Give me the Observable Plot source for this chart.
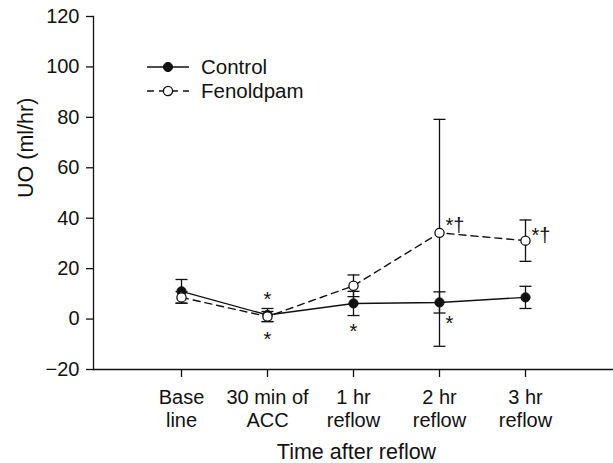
<!DOCTYPE html>
<html><head><meta charset="utf-8">
<script src="https://cdn.jsdelivr.net/npm/d3@7"></script>
<script src="https://cdn.jsdelivr.net/npm/@observablehq/plot@0.6"></script>
<style>
body{margin:0;background:#fff;}
#wrap{position:relative;width:613px;height:463px;font-family:"Liberation Sans",Arial,sans-serif;color:#111;}
#legend{position:absolute;left:140px;top:50px;}
</style></head><body>
<div id="wrap"><div id="chart"></div><div id="legend"></div></div>
<script>
const categories = ["Base\nline", "30 min of\nACC", "1 hr\nreflow", "2 hr\nreflow", "3 hr\nreflow"];
const controlMean = [11, 1.6, 6.2, 6.6, 8.6];
const controlErr = [4.7, 2.6, 4.8, 4.2, 4.4];
const fenoldpamMean = [8.6, 1.0, 13.2, 34.2, 31.1];
const fenoldpamErr = [2.3, 2.0, 4.3, 45, 8.2];
const yTicks = [-20, 0, 20, 40, 60, 80, 100, 120];
const seriesNames = ["Control", "Fenoldpam"];
const yTitle = "UO (ml/hr)";
const xTitle = "Time after reflow";

const annCategory = ["30 min of\nACC", "30 min of\nACC", "1 hr\nreflow", "2 hr\nreflow", "2 hr\nreflow", "3 hr\nreflow"];
const annValue = [9.7, -6.2, -3.1, 0, 38.9, 35.1];
const annLabel = ["*", "*", "*", "*", "*\u2020", "*\u2020"];
const annPlacement = ["center", "center", "center", "right", "right", "right"];

const rows = categories.flatMap((c, i) => [
  {cat: c, series: seriesNames[0], mean: controlMean[i], err: controlErr[i]},
  {cat: c, series: seriesNames[1], mean: fenoldpamMean[i], err: fenoldpamErr[i]}
]);
const anns = annCategory.map((c, i) => ({cat: c, v: annValue[i], label: annLabel[i], place: annPlacement[i]}));
const ctrl = rows.filter(d => d.series === "Control");
const feno = rows.filter(d => d.series === "Fenoldpam");

const capSymbol = {draw(ctx, size) { const w = Math.sqrt(size / Math.PI); ctx.moveTo(-w, 0); ctx.lineTo(w, 0); }};
const ink = "#111";
const font = "'Liberation Sans', Arial, sans-serif";

const chart = Plot.plot({
  width: 613, height: 463,
  marginLeft: 93, marginRight: 0, marginTop: 16, marginBottom: 94,
  style: {fontFamily: font, fontSize: "20px", color: ink, background: "#fff"},
  x: {type: "point", domain: categories, padding: 1},
  y: {domain: [-20, 120]},
  marks: [
    Plot.frame({anchor: "left", stroke: ink, strokeWidth: 1.3}),
    Plot.frame({anchor: "bottom", stroke: ink, strokeWidth: 1.3}),
    Plot.axisY({ticks: yTicks, tickSize: 7, tickPadding: 7, fontSize: 20, strokeWidth: 1.3, label: null}),
    Plot.axisX({tickSize: 8, tickPadding: 10, fontSize: 20, lineHeight: 1.15, strokeWidth: 1.3, label: null}),
    Plot.text([yTitle], {text: d => d, frameAnchor: "left", rotate: -90, lineAnchor: "top", dx: -76, dy: 5, fontSize: 21.5, fill: ink}),
    Plot.text([xTitle], {text: d => d, frameAnchor: "bottom", lineAnchor: "top", dy: 74, dx: 3, fontSize: 21.5, fill: ink}),
    Plot.ruleX(rows, {x: "cat", y1: d => d.mean - d.err, y2: d => d.mean + d.err, stroke: ink, strokeWidth: 1.3}),
    Plot.dot(rows, {x: "cat", y: d => d.mean + d.err, symbol: capSymbol, r: 6, fill: "none", stroke: ink, strokeWidth: 1.3}),
    Plot.dot(rows, {x: "cat", y: d => d.mean - d.err, symbol: capSymbol, r: 6, fill: "none", stroke: ink, strokeWidth: 1.3}),
    Plot.line(ctrl, {x: "cat", y: "mean", stroke: ink, strokeWidth: 1.4}),
    Plot.line(feno, {x: "cat", y: "mean", stroke: ink, strokeWidth: 1.4, strokeDasharray: "7,5"}),
    Plot.dot(ctrl, {x: "cat", y: "mean", r: 4.6, fill: ink, stroke: ink, strokeWidth: 1}),
    Plot.dot(feno, {x: "cat", y: "mean", r: 4.6, fill: "#fff", stroke: ink, strokeWidth: 1.3}),
    Plot.text(anns.filter(d => d.place === "center"), {x: "cat", y: "v", text: "label", fontSize: 20, dy: 5, fill: ink, fontFamily: font}),
    Plot.text(anns.filter(d => d.place === "right"), {x: "cat", y: "v", text: "label", fontSize: 20, dy: 5, dx: 6, textAnchor: "start", fill: ink, fontFamily: font})
  ]
});
document.getElementById("chart").appendChild(chart);

// Legend (layout overlay)
const lg = d3.select("#legend").append("svg").attr("width", 200).attr("height", 56)
  .style("font-family", font);
seriesNames.forEach((name, i) => {
  const g = lg.append("g").attr("transform", `translate(0,${17 + i * 24})`);
  g.append("line").attr("x1", 7).attr("x2", 49).attr("y1", 0).attr("y2", 0)
    .attr("stroke", ink).attr("stroke-width", 1.4).attr("stroke-dasharray", i ? "7,5" : null);
  g.append("circle").attr("cx", 28).attr("cy", 0).attr("r", 4.6)
    .attr("fill", i ? "#fff" : ink).attr("stroke", ink).attr("stroke-width", i ? 1.3 : 1);
  g.append("text").attr("x", 61).attr("y", 0).attr("dy", "0.35em").attr("font-size", 20.5)
    .attr("fill", ink).text(name);
});
</script>
</body></html>
